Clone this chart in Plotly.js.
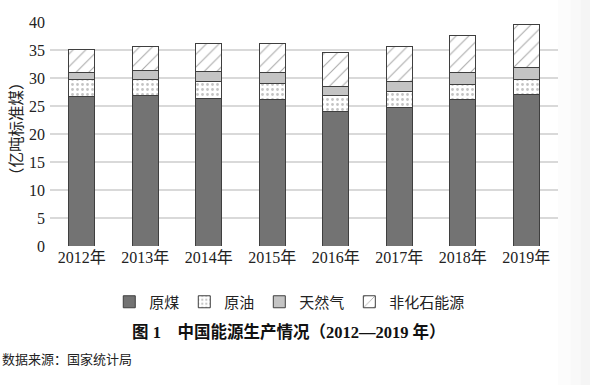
<!DOCTYPE html>
<html>
<head>
<meta charset="utf-8">
<script src="https://cdn.plot.ly/plotly-3.0.1.min.js"></script>
<style>html,body{margin:0;padding:0;background:#fff;}#chart{width:590px;height:385px;}</style>
</head>
<body>
<div id="chart"></div>
<script>
var years = ["2012年","2013年","2014年","2015年","2016年","2017年","2018年","2019年"];
var coal = [26.7, 26.9, 26.4, 26.1, 24.0, 24.8, 26.1, 27.0];
var oil = [3.0, 2.9, 3.0, 2.9, 2.8, 2.8, 2.7, 2.8];
var gas = [1.3, 1.6, 1.8, 1.9, 1.7, 1.8, 2.1, 2.1];
var nonFossil = [4.05, 4.2, 4.9, 5.2, 6.0, 6.2, 6.7, 7.7];
var seriesNames = ["原煤","原油","天然气","非化石能源"];

var fontFam = "'Liberation Serif', 'Times New Roman', 'Noto Sans CJK SC', serif";
var lineStyle = {color: "#3f3f3f", width: 1};

var traces = [
  {x: years, y: coal, name: seriesNames[0], type: "bar",
   marker: {color: "#737373", line: lineStyle}},
  {x: years, y: oil, name: seriesNames[1], type: "bar",
   marker: {color: "#ffffff", line: lineStyle,
     pattern: {shape: ".", fgcolor: "#8a8a8a", bgcolor: "#ffffff", size: 5, solidity: 0.25, fillmode: "overlay"}}},
  {x: years, y: gas, name: seriesNames[2], type: "bar",
   marker: {color: "#c4c4c4", line: lineStyle}},
  {x: years, y: nonFossil, name: seriesNames[3], type: "bar",
   marker: {color: "#ffffff", line: lineStyle,
     pattern: {shape: "/", fgcolor: "#555555", bgcolor: "#ffffff", size: 9, solidity: 0.12, fillmode: "overlay"}}}
];

var layout = {
  width: 590, height: 385,
  margin: {l: 50, r: 32, t: 22, b: 139},
  paper_bgcolor: "#ffffff", plot_bgcolor: "#ffffff",
  barmode: "stack",
  bargap: 0.59,
  font: {family: fontFam, color: "#222222", size: 16},
  showlegend: true,
  legend: {orientation: "h", x: 0.472, xanchor: "center", y: -0.25, yanchor: "middle",
    font: {family: "'Noto Sans CJK SC', sans-serif", size: 15, color: "#222"},
    traceorder: "normal", itemwidth: 30},
  xaxis: {type: "category", showgrid: false, zeroline: false, showline: false,
    ticks: "", tickfont: {family: fontFam, size: 16, color: "#222"}},
  yaxis: {range: [0, 40], dtick: 5, showgrid: true, gridcolor: "#d9d9d9", gridwidth: 1.5,
    zeroline: false, showline: false, ticks: "", ticklabelstandoff: 4,
    tickfont: {family: fontFam, size: 16, color: "#222"}},
  shapes: [
    {type: "rect", xref: "paper", yref: "paper", x0: 1.0, x1: 1.025, y0: -0.8, y1: 1.1, line: {width: 0}, fillcolor: "#fcfcfc", layer: "below"},
    {type: "rect", xref: "paper", yref: "paper", x0: 1.025, x1: 1.045, y0: -0.8, y1: 1.1, line: {width: 0}, fillcolor: "#f9f9f9", layer: "below"},
    {type: "rect", xref: "paper", yref: "paper", x0: 1.045, x1: 1.07, y0: -0.8, y1: 1.1, line: {width: 0}, fillcolor: "#f5f5f5", layer: "below"}
  ],
  annotations: [
    {xref: "paper", yref: "paper", x: -0.069, y: 0.527, xanchor: "center", yanchor: "middle",
     showarrow: false, textangle: -90, text: "（亿吨标准煤）",
     font: {family: "'Noto Sans CJK SC', sans-serif", size: 15.5, color: "#222"}},
    {xref: "paper", yref: "paper", x: 0.47, y: -0.385, xanchor: "center", yanchor: "middle",
     showarrow: false, text: "<b>图 1　中国能源生产情况（2012—2019 年）</b>",
     font: {family: "'Liberation Serif', 'Noto Sans CJK SC', serif", size: 16.5, color: "#111"}},
    {xref: "paper", yref: "paper", x: -0.098, y: -0.5, xanchor: "left", yanchor: "middle",
     showarrow: false, text: "数据来源：国家统计局",
     font: {family: "'Noto Sans CJK SC', sans-serif", size: 13, color: "#222"}}
  ]
};

Plotly.newPlot("chart", traces, layout, {displayModeBar: false, staticPlot: true});
</script>
</body>
</html>
